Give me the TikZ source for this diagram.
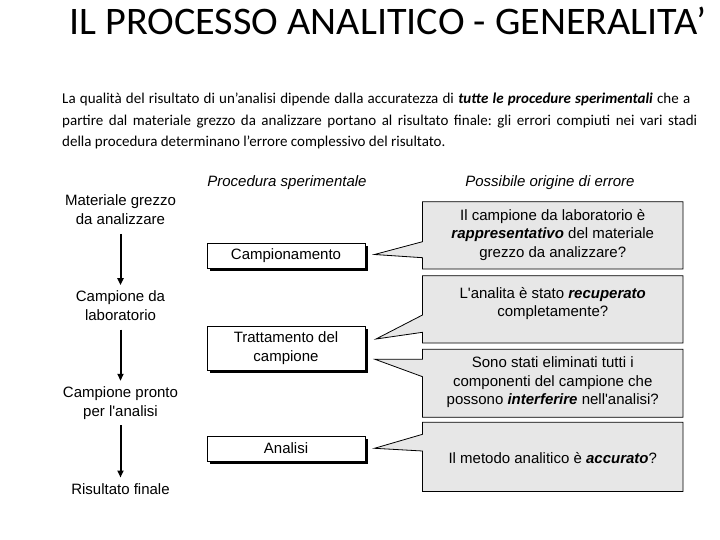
\documentclass[tikz,border=0pt]{standalone}
\usepackage{fontspec}
\setmainfont{Liberation Sans}
\newfontfamily\calib{Carlito}
\usetikzlibrary{arrows.meta,shadows}
\definecolor{callgray}{RGB}{231,231,231}
\frenchspacing
\begin{document}
\begin{tikzpicture}[x=1pt,y=-1pt,
  lab/.style={font=\fontsize{15}{19}\selectfont, align=center, inner sep=0pt},
  clab/.style={font=\fontsize{15}{18.5}\selectfont, align=center, inner sep=0pt},
  head/.style={font=\fontsize{15}{19}\selectfont\itshape, anchor=base, inner sep=0pt},
  para/.style={font=\calib\fontsize{15}{16}\selectfont, anchor=base west, inner sep=0pt},
  stepbox/.style={draw, line width=0.9pt, fill=white, minimum width=158pt, inner sep=0pt,
    font=\fontsize{15}{18.5}\selectfont, align=center,
    drop shadow={shadow xshift=2.5pt, shadow yshift=-2.5pt, opacity=1, fill=black}},
  flow/.style={line width=2pt, -{Triangle[length=7pt,width=6pt]}, shorten <=3pt, shorten >=3pt},
  callout/.style={draw, line width=0.8pt, fill=callgray, line join=miter}
]
\fill[white] (0,0) rectangle (720,540);
\useasboundingbox (0,0) rectangle (720,540);

% title
\node[anchor=base west, inner sep=0pt, font=\calib\fontsize{39}{40}\selectfont] (title) at (69,35)
  {\resizebox{637pt}{\height}{IL PROCESSO ANALITICO - GENERALITA’}};

% paragraph
\node[para] (p1) at (62,104) {\makebox[628pt][s]{La qualità del risultato di un’analisi dipende dalla accuratezza di \textbf{\textit{tutte le procedure sperimentali}} che a}};
\node[para] (p2) at (62,125.5) {\makebox[635pt][s]{partire dal materiale grezzo da analizzare portano al risultato finale: gli errori compiuti nei vari stadi}};
\node[para] (p3) at (62,147) {della procedura determinano l’errore complessivo del risultato.};

% headers
\node[head] (h1) at (287,186.7) {Procedura sperimentale};
\node[head] (h2) at (550,186.7) {Possibile origine di errore};

% left column
\node[lab] (n1) at (120.5,211.7) {\strut Materiale grezzo\\\strut da analizzare};
\node[lab] (n2) at (120.5,307.4) {\strut Campione da\\\strut laboratorio};
\node[lab] (n3) at (120.5,403) {\strut Campione pronto\\\strut per l\textquotesingle analisi};
\node[lab] (n4) at (120.5,490.2) {\strut Risultato finale};
\draw[flow] (n1) -- (n2);
\draw[flow] (n2) -- (n3);
\draw[flow] (n3) -- (n4);

% procedure boxes
\node[stepbox, minimum height=25pt] (b1) at (286,255.5) {Campionamento};
\node[stepbox, minimum height=44pt] (b2) at (286,348) {Trattamento del\\campione};
\node[stepbox, minimum height=25pt] (b3) at (286,448.5) {Analisi};

% callouts
\coordinate (t1) at (374.5,254.5);
\coordinate (t2) at (376,339);
\coordinate (t3) at (375,359.3);
\coordinate (t4) at (374.5,448.3);
\draw[callout] (422.5,201.7) -- (683,201.7) -- (683,269) -- (422.5,269) -- (422.5,257.7) -- (t1) -- (422.5,241.7) -- cycle;
\draw[callout] (422.5,275.7) -- (683,275.7) -- (683,343) -- (422.5,343) -- (422.5,332.3) -- (t2) -- (422.5,315) -- cycle;
\draw[callout] (422.5,349.3) -- (683,349.3) -- (683,417.3) -- (422.5,417.3) -- (422.5,376.7) -- (t3) -- (422.5,359.3) -- cycle;
\draw[callout] (422.5,422.3) -- (683,422.3) -- (683,491.5) -- (422.5,491.5) -- (422.5,451) -- (t4) -- (422.5,434.3) -- cycle;

\node[clab] (c1) at (552.75,235.2) {\strut Il campione da laboratorio è\\\strut \textbf{\textit{rappresentativo}} del materiale\\\strut grezzo da analizzare?};
\node[clab] (c2) at (552.75,304) {\strut L\textquotesingle analita è stato \textbf{\textit{recuperato}}\\\strut completamente?};
\node[clab] (c3) at (552.75,382.5) {\strut Sono stati eliminati tutti i\\\strut componenti del campione che\\\strut possono \textbf{\textit{interferire}} nell\textquotesingle analisi?};
\node[clab] (c4) at (552.75,459.5) {\strut Il metodo analitico è \textbf{\textit{accurato}}?};
\end{tikzpicture}
\end{document}
